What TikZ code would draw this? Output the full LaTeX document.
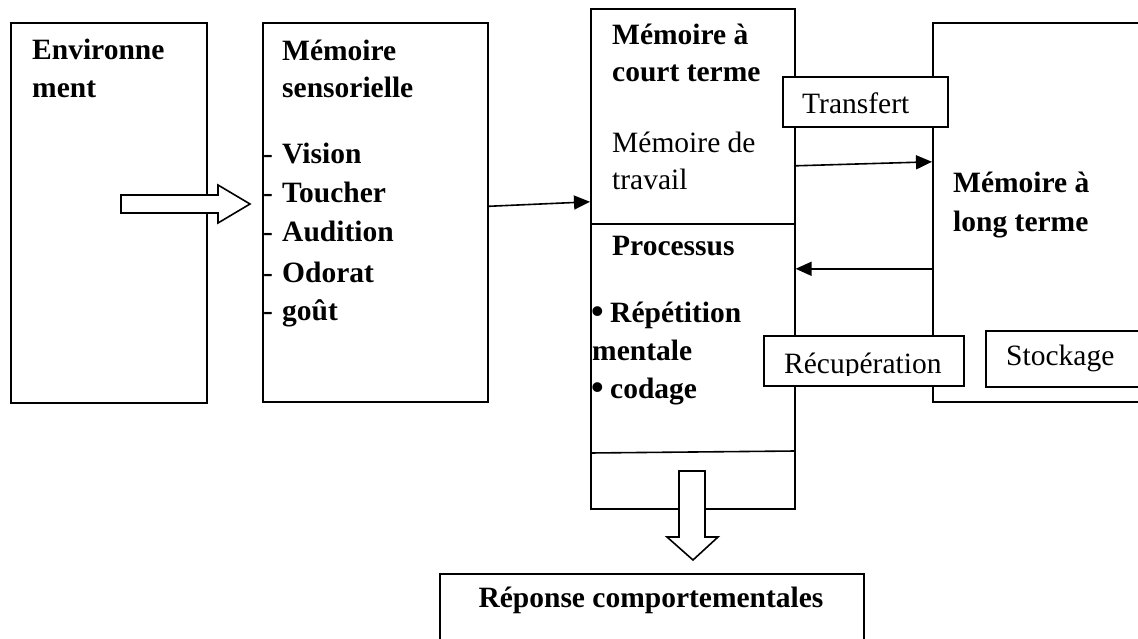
\documentclass[tikz,border=0pt]{standalone}
\usepackage{fontspec}
\setmainfont{Liberation Serif}
\usetikzlibrary{arrows.meta}
\begin{document}
\begin{tikzpicture}[x=1pt,y=-1pt,
  box/.style={draw, line width=1.6pt, fill=white, inner sep=0pt},
  txt/.style={anchor=base west, inner sep=0pt, font=\fontsize{29.5}{34}\selectfont},
  btxt/.style={anchor=base west, inner sep=0pt, font=\fontsize{29.5}{34}\selectfont\bfseries},
  bul/.style={anchor=base west, inner sep=0pt, font=\fontsize{36}{40}\selectfont\bfseries},
  conn/.style={line width=1.6pt, -{Triangle[length=16pt,width=14pt]}},
  hollow/.style={draw, line width=1.6pt, fill=white, line join=miter},
  sep/.style={line width=1.6pt}]
\useasboundingbox (0,0) rectangle (1138,639);
\clip (0,0) rectangle (1138,639);

% main stores
\node[box, anchor=north west, minimum width=196pt, minimum height=380pt] (env) at (10,22) {};
\node[box, anchor=north west, minimum width=225pt, minimum height=379pt] (sens) at (262,22) {};
\node[box, anchor=north west, minimum width=204pt, minimum height=500pt] (mct) at (590,8) {};
\node[box, anchor=north west, minimum width=228pt, minimum height=379pt] (mlt) at (932,22) {};
\node[box, anchor=north west, minimum width=424pt, minimum height=100pt] (rep) at (439,573) {};

% compartments of short-term memory
\draw[sep] (mct.west |- 0,224) -- (mct.east |- 0,224);
\draw[sep] (mct.west |- 0,453) -- (mct.east |- 0,451);

% labelled boxes between the stores
\node[box, anchor=north west, minimum width=165pt, minimum height=50pt] (transf) at (782,76) {};
\node[box, anchor=north west, minimum width=200pt, minimum height=50pt] (recup) at (763,335) {};
\node[box, anchor=north west, minimum width=190pt, minimum height=56pt] (stock) at (985,330) {};

% connectors
\draw[conn] ([yshift=6pt]sens.east) -- ([yshift=57pt]mct.west);
\draw[conn] ([yshift=93pt]mct.east) -- ([yshift=50.5pt]mlt.west);
\draw[conn] ([yshift=-56.5pt]mlt.west) -- ([yshift=-10pt]mct.east);

% block arrows
\draw[hollow] (121,195) -- (218,195) -- (218,185) -- (250,204) -- (218,223) -- (218,213) -- (121,213) -- cycle;
\draw[hollow] (679,471) -- (705,471) -- (705,537) -- (718,537) -- (693,560) -- (667,537) -- (679,537) -- cycle;

% environment
\node[btxt] (envA) at (32,60) {Environne};
\node[btxt] (envB) at (32,98) {ment};

% sensory memory
\node[btxt] (sA) at (282,61) {Mémoire};
\node[btxt] (sB) at (282,98) {sensorielle};
\foreach \y/\w [count=\i] in {164/Vision,203/Toucher,242/Audition,282/Odorat,320/goût}{
  \node[txt] (sd\i) at (263,\y) {-};
  \node[btxt] (si\i) at (282,\y) {\w};
}

% short-term memory
\node[btxt] (mA) at (612,45) {Mémoire à};
\node[btxt] (mB) at (612,82) {court terme};
\node[txt] (mC) at (612,153) {Mémoire de};
\node[txt] (mD) at (612,190) {travail};
\node[btxt] (mE) at (612,255) {Processus};
\node[bul] (b1) at (591,323) {•};
\node[btxt] (mF) at (610,322) {Répétition};
\node[btxt] (mG) at (592,360) {mentale};
\node[bul] (b2) at (591,399) {•};
\node[btxt] (mH) at (610,398) {codage};

% long-term memory
\node[btxt] (lA) at (953,193) {Mémoire à};
\node[btxt] (lB) at (953,232) {long terme};

% box labels
\node[txt] (tT) at (802,114) {Transfert};
\begin{scope}
  \clip (763,335) rectangle (963,375);
  \node[txt] (tR) at (784,373) {Récupération};
\end{scope}
\node[txt] (tS) at (1006,365) {Stockage};
\node[btxt, anchor=base] (tRep) at (651,607) {Réponse comportementales};
\end{tikzpicture}
\end{document}
